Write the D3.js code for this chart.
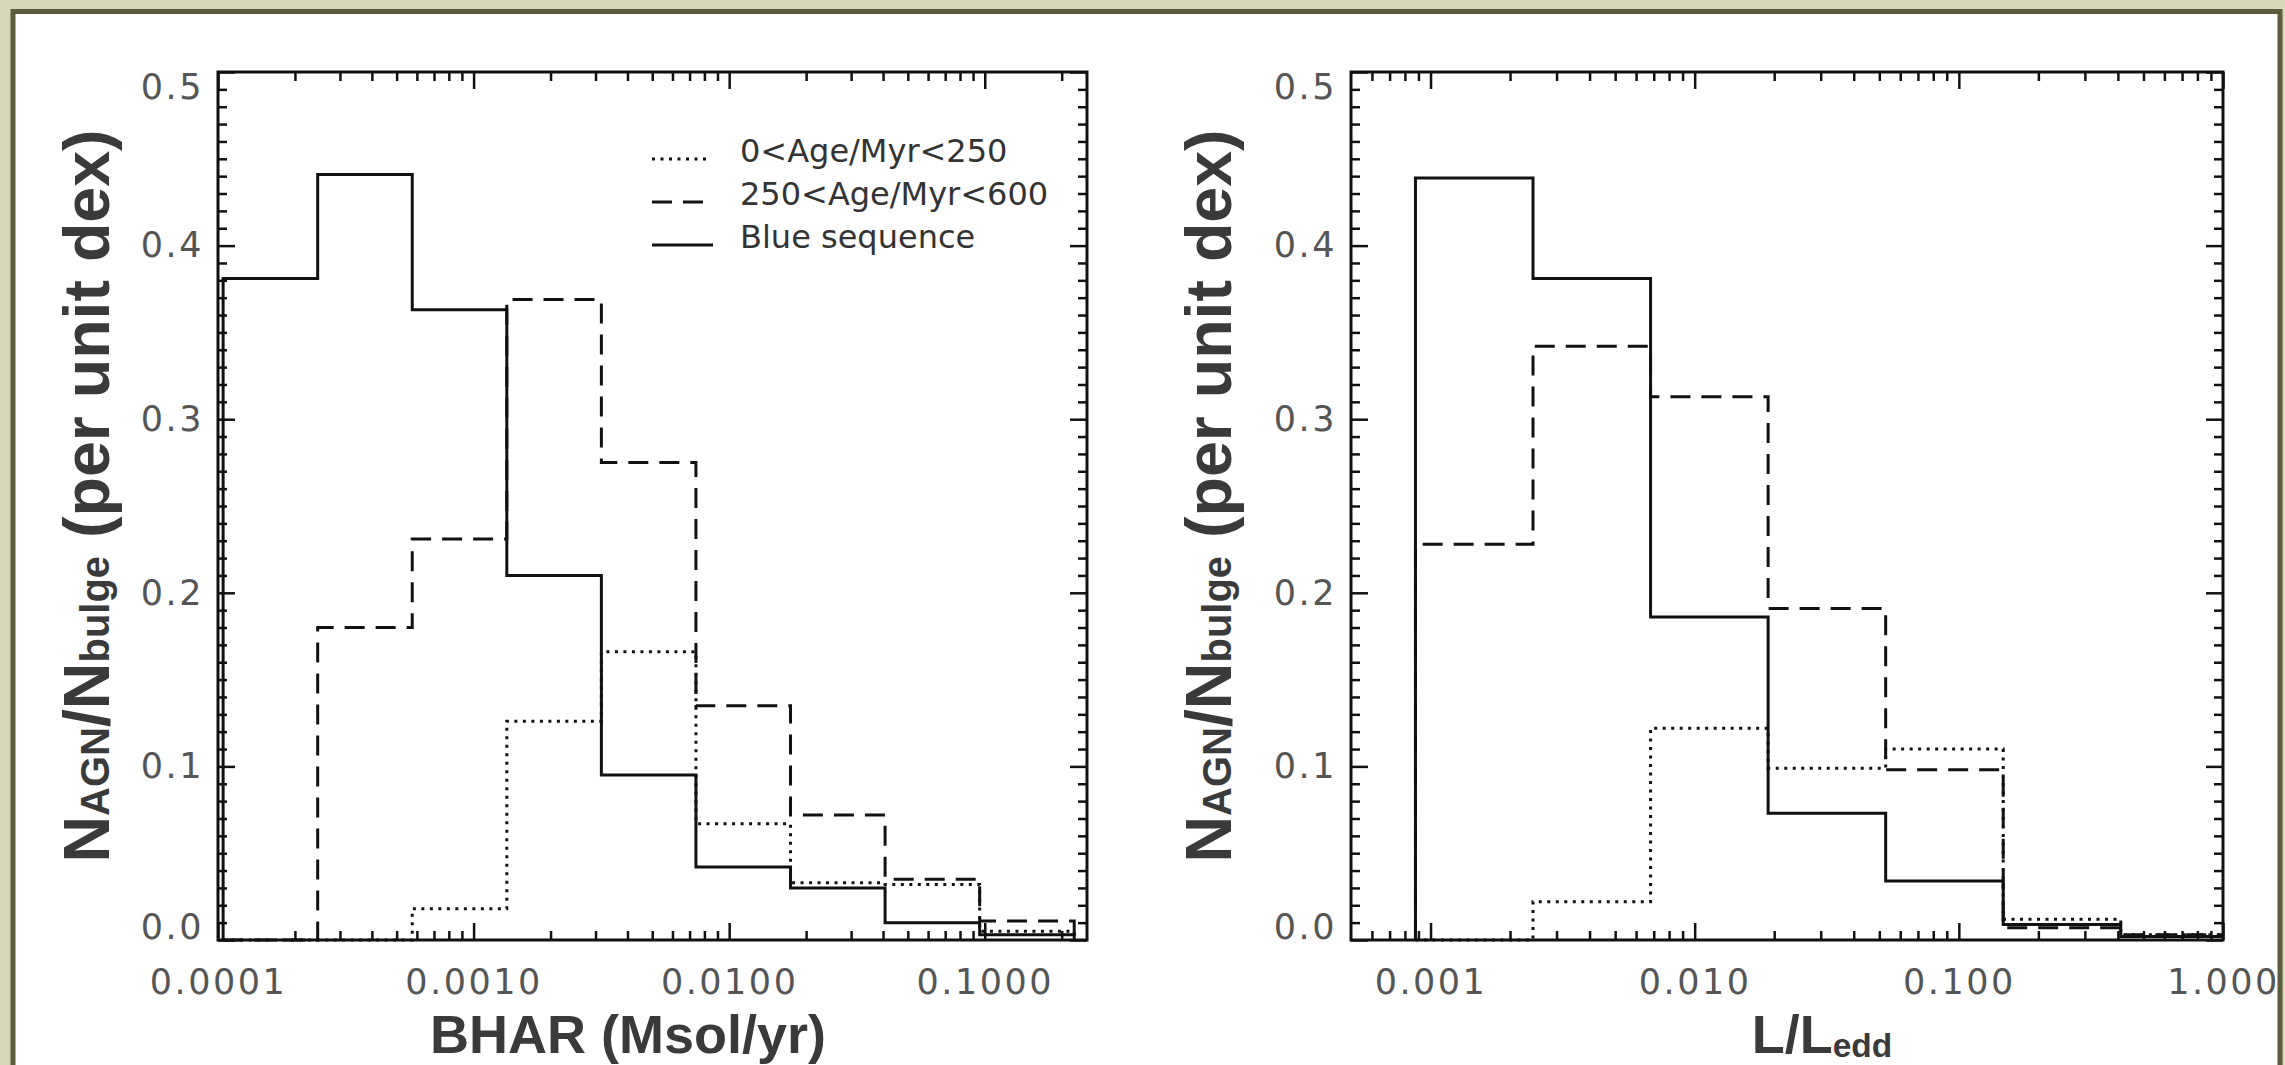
<!DOCTYPE html>
<html>
<head>
<meta charset="utf-8">
<script src="https://cdn.jsdelivr.net/npm/d3@7"></script>
<style>
  html, body { margin: 0; padding: 0; background: #d5d3b4; }
  svg { display: block; }
</style>
</head>
<body>
<div id="chart"></div>
<script>
// Left panel: black hole accretion rate, log10 bin edges (Msol/yr)
const bharLogEdges = [-3.98, -3.61, -3.24, -2.87, -2.50, -2.13, -1.76, -1.39, -1.02, -0.65];
const bharYoung = [0, 0, 0.018, 0.126, 0.166, 0.067, 0.033, 0.032, 0.005];
const bharOld = [0, 0.180, 0.231, 0.369, 0.275, 0.135, 0.072, 0.035, 0.011];
const bharBlue = [0.381, 0.441, 0.363, 0.210, 0.095, 0.042, 0.030, 0.010, 0.003];
const bharTicks = [0.0001, 0.001, 0.01, 0.1];
const bharTickLabels = ['0.0001', '0.0010', '0.0100', '0.1000'];

// Right panel: Eddington ratio, log10 bin edges
const eddLogEdges = [-3.057, -2.612, -2.167, -1.722, -1.277, -0.832, -0.387, 0.058];
const eddYoung = [0, 0.022, 0.122, 0.099, 0.110, 0.012, 0.003];
const eddOld = [0.228, 0.342, 0.313, 0.191, 0.098, 0.007, 0.003];
const eddBlue = [0.439, 0.381, 0.186, 0.073, 0.034, 0.009, 0.002];
const eddTicks = [0.001, 0.01, 0.1, 1];
const eddTickLabels = ['0.001', '0.010', '0.100', '1.000'];

const yTicks = [0, 0.1, 0.2, 0.3, 0.4, 0.5];
const yTickLabels = ['0.0', '0.1', '0.2', '0.3', '0.4', '0.5'];
const seriesNames = ['0<Age/Myr<250', '250<Age/Myr<600', 'Blue sequence'];

const width = 2285, height = 1065;
const plotTop = 72, plotBottom = 940;
const ink = '#111';
const dashes = ['3,5.5', '20,11', null];

const panels = [
  { id: 'bhar', left: 218, right: 1087, domain: [1e-4, Math.pow(10, -0.6)],
    edges: bharLogEdges, series: [bharYoung, bharOld, bharBlue],
    ticks: bharTicks, labels: bharTickLabels, yTitleX: 109, legend: true },
  { id: 'edd', left: 1351, right: 2223, domain: [5e-4, 1],
    edges: eddLogEdges, series: [eddYoung, eddOld, eddBlue],
    ticks: eddTicks, labels: eddTickLabels, yTitleX: 1231, legend: false },
];

const svg = d3.select('#chart').append('svg')
  .attr('width', width)
  .attr('height', height)
  .attr('viewBox', `0 0 ${width} ${height}`);

// Beige matte with a dark olive frame around the white figure.
svg.append('rect').attr('width', width).attr('height', height).attr('fill', '#d8d6b8');
svg.append('rect')
  .attr('x', 13).attr('y', 11.5).attr('width', 2267).attr('height', 1100)
  .attr('fill', '#fff').attr('stroke', '#5c5b3e').attr('stroke-width', 5);

const y = d3.scaleLinear().domain([0, 0.5]).range([plotBottom, plotTop]);
const yMinor = d3.range(1, 50).map(i => i / 100).filter(v => Math.round(v * 100) % 10 !== 0);

// Minor log ticks at 2..9 times each decade inside the domain.
function logMinors(domain) {
  const out = [];
  for (let e = Math.floor(Math.log10(domain[0])); e <= Math.ceil(Math.log10(domain[1])); e++) {
    for (let m = 2; m <= 9; m++) {
      const v = m * Math.pow(10, e);
      if (v > domain[0] * 1.0001 && v < domain[1] * 0.9999) out.push(v);
    }
  }
  return out;
}

function styleAxis(g) {
  g.select('.domain').remove();
  g.selectAll('line').attr('stroke', ink).attr('stroke-width', 2.5);
  g.selectAll('text')
    .attr('font-family', '"DejaVu Sans", sans-serif')
    .attr('font-size', 35)
    .attr('letter-spacing', 2.5)
    .attr('fill', '#555');
}

function stepPath(x, edges, values) {
  const pts = [[x(10 ** edges[0]), y(0)]];
  values.forEach((v, i) => {
    pts.push([x(10 ** edges[i]), y(v)], [x(10 ** edges[i + 1]), y(v)]);
  });
  pts.push([x(10 ** edges[edges.length - 1]), y(0)]);
  return d3.line()(pts);
}

panels.forEach(p => {
  const x = d3.scaleLog().domain(p.domain).range([p.left, p.right]);
  const minors = logMinors(p.domain);
  const g = svg.append('g');

  g.append('clipPath').attr('id', `clip-${p.id}`)
    .append('rect')
    .attr('x', p.left).attr('y', plotTop - 3)
    .attr('width', p.right - p.left).attr('height', plotBottom - plotTop + 6);

  // Histograms
  p.series.forEach((values, i) => {
    g.append('path')
      .attr('clip-path', `url(#clip-${p.id})`)
      .attr('d', stepPath(x, p.edges, values))
      .attr('fill', 'none')
      .attr('stroke', ink)
      .attr('stroke-width', 3)
      .attr('stroke-dasharray', dashes[i]);
  });

  // Bottom axis with labels, plus minor ticks
  g.append('g').attr('transform', `translate(0,${plotBottom})`)
    .call(d3.axisBottom(x).tickValues(p.ticks).tickSize(-17).tickSizeOuter(0)
      .tickPadding(29).tickFormat((d, i) => p.labels[i]))
    .call(styleAxis);
  g.append('g').attr('transform', `translate(0,${plotBottom})`)
    .call(d3.axisBottom(x).tickValues(minors).tickSize(-9).tickSizeOuter(0).tickFormat(''))
    .call(styleAxis);
  g.append('g').attr('transform', `translate(0,${plotTop})`)
    .call(d3.axisTop(x).tickValues(p.ticks).tickSize(-17).tickSizeOuter(0).tickFormat(''))
    .call(styleAxis);
  g.append('g').attr('transform', `translate(0,${plotTop})`)
    .call(d3.axisTop(x).tickValues(minors).tickSize(-9).tickSizeOuter(0).tickFormat(''))
    .call(styleAxis);

  // Left axis with labels, plus minor ticks and a mirrored right axis
  g.append('g').attr('transform', `translate(${p.left},0)`)
    .call(d3.axisLeft(y).tickValues(yTicks).tickSize(-17).tickSizeOuter(0)
      .tickPadding(14).tickFormat((d, i) => yTickLabels[i]))
    .call(styleAxis)
    .selectAll('.tick text')
    .attr('dy', d => d === 0.5 ? '0.76em' : d === 0 ? '-0.03em' : '0.32em');
  g.append('g').attr('transform', `translate(${p.left},0)`)
    .call(d3.axisLeft(y).tickValues(yMinor).tickSize(-9).tickSizeOuter(0).tickFormat(''))
    .call(styleAxis);
  g.append('g').attr('transform', `translate(${p.right},0)`)
    .call(d3.axisRight(y).tickValues(yTicks).tickSize(-17).tickSizeOuter(0).tickFormat(''))
    .call(styleAxis);
  g.append('g').attr('transform', `translate(${p.right},0)`)
    .call(d3.axisRight(y).tickValues(yMinor).tickSize(-9).tickSizeOuter(0).tickFormat(''))
    .call(styleAxis);

  g.append('rect')
    .attr('x', p.left).attr('y', plotTop)
    .attr('width', p.right - p.left).attr('height', plotBottom - plotTop)
    .attr('fill', 'none').attr('stroke', ink).attr('stroke-width', 3);

  // Y axis title, rotated
  const yTitle = g.append('text')
    .attr('transform', `translate(${p.yTitleX},496) rotate(-90)`)
    .attr('text-anchor', 'middle')
    .attr('font-family', '"Liberation Sans", Arial, sans-serif')
    .attr('font-weight', 700)
    .attr('font-size', 64.5)
    .attr('fill', '#3a3a3a');
  yTitle.append('tspan').text('N');
  yTitle.append('tspan').attr('font-size', '0.62em').text('AGN');
  yTitle.append('tspan').text('/N');
  yTitle.append('tspan').attr('font-size', '0.62em').text('bulge');
  yTitle.append('tspan').text(' (per unit dex)');

  if (p.legend) {
    const legend = g.append('g');
    seriesNames.forEach((name, i) => {
      const ly = 159 + i * 43;
      legend.append('line')
        .attr('x1', 652).attr('x2', i === 2 ? 713 : 708)
        .attr('y1', ly).attr('y2', ly)
        .attr('stroke', ink).attr('stroke-width', 3)
        .attr('stroke-dasharray', dashes[i]);
      legend.append('text')
        .attr('x', 740).attr('y', ly + 3)
        .attr('font-family', '"DejaVu Sans", sans-serif')
        .attr('font-size', 32)
        .attr('fill', '#333')
        .text(name);
    });
  }
});

// X axis titles
svg.append('text')
  .attr('x', 628).attr('y', 1053)
  .attr('text-anchor', 'middle')
  .attr('font-family', '"Liberation Sans", Arial, sans-serif')
  .attr('font-weight', 700).attr('font-size', 54).attr('fill', '#3a3a3a')
  .text('BHAR (Msol/yr)');

const eddTitle = svg.append('text')
  .attr('x', 1822).attr('y', 1053)
  .attr('text-anchor', 'middle')
  .attr('font-family', '"Liberation Sans", Arial, sans-serif')
  .attr('font-weight', 700).attr('font-size', 54).attr('fill', '#3a3a3a');
eddTitle.append('tspan').text('L/L');
eddTitle.append('tspan').attr('font-size', '0.62em').attr('dy', '0.12em').text('edd');
</script>
</body>
</html>
